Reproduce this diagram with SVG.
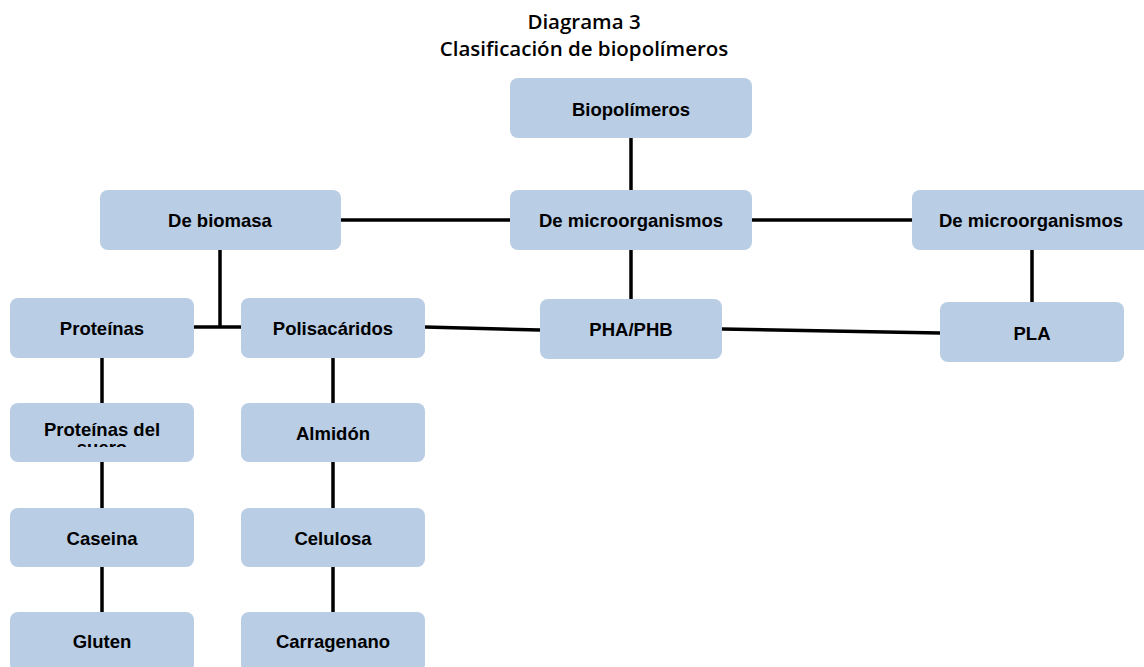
<svg xmlns="http://www.w3.org/2000/svg" width="1144" height="667" viewBox="0 0 1144 667">
  <defs>
    <style>
      .box { fill: #b9cde5; }
      .lbl { font-family: "Liberation Sans", Arial, sans-serif; font-weight: bold; font-size: 18.5px; fill: #000; text-anchor: middle; dominant-baseline: central; }
      .lbl2 { font-family: "Liberation Sans", Arial, sans-serif; font-weight: bold; font-size: 18.5px; fill: #000; text-anchor: middle; }
      .ttl { font-family: "Open Sans", "Liberation Sans", sans-serif; font-weight: 600; font-size: 20.5px; fill: #000; text-anchor: middle; }
      .ln { stroke: #000; stroke-width: 3.5; fill: none; }
    </style>
    <clipPath id="clip-suero">
      <rect x="10" y="403" width="184" height="44"/>
    </clipPath>
  </defs>
  <rect width="1144" height="667" fill="#fff"/>

  <g id="title">
    <text class="ttl" x="584" y="29">Diagrama 3</text>
    <text class="ttl" x="584" y="56">Clasificación de biopolímeros</text>
  </g>

  <g id="connectors">
    <line class="ln" x1="631" y1="138" x2="631" y2="190"/>
    <line class="ln" x1="341" y1="220" x2="510" y2="220"/>
    <line class="ln" x1="752" y1="220" x2="912" y2="220"/>
    <line class="ln" x1="631" y1="250" x2="631" y2="300"/>
    <line class="ln" x1="1032" y1="250" x2="1032" y2="302"/>
    <line class="ln" x1="220" y1="250" x2="220" y2="327"/>
    <line class="ln" x1="194" y1="327" x2="241" y2="327"/>
    <line class="ln" x1="425" y1="327" x2="540" y2="330"/>
    <line class="ln" x1="722" y1="329" x2="940" y2="333"/>
    <line class="ln" x1="102" y1="358" x2="102" y2="403"/>
    <line class="ln" x1="102" y1="462" x2="102" y2="508"/>
    <line class="ln" x1="102" y1="567" x2="102" y2="612"/>
    <line class="ln" x1="333" y1="358" x2="333" y2="403"/>
    <line class="ln" x1="333" y1="462" x2="333" y2="508"/>
    <line class="ln" x1="333" y1="567" x2="333" y2="612"/>
  </g>

  <g id="n-biopolimeros">
    <rect class="box" x="510" y="78" width="242" height="60" rx="8"/>
    <text class="lbl" x="631" y="109">Biopolímeros</text>
  </g>
  <g id="n-biomasa">
    <rect class="box" x="100" y="190" width="241" height="60" rx="8"/>
    <text class="lbl" x="220" y="220">De biomasa</text>
  </g>
  <g id="n-micro">
    <rect class="box" x="510" y="190" width="242" height="60" rx="8"/>
    <text class="lbl" x="631" y="220">De microorganismos</text>
  </g>
  <g id="n-micro2">
    <rect class="box" x="912" y="190" width="240" height="60" rx="8"/>
    <text class="lbl" x="1031" y="220">De microorganismos</text>
  </g>
  <g id="n-proteinas">
    <rect class="box" x="10" y="298" width="184" height="60" rx="8"/>
    <text class="lbl" x="102" y="328">Proteínas</text>
  </g>
  <g id="n-polisacaridos">
    <rect class="box" x="241" y="298" width="184" height="60" rx="8"/>
    <text class="lbl" x="333" y="328">Polisacáridos</text>
  </g>
  <g id="n-pha">
    <rect class="box" x="540" y="299" width="182" height="60" rx="8"/>
    <text class="lbl" x="631" y="329">PHA/PHB</text>
  </g>
  <g id="n-pla">
    <rect class="box" x="940" y="302" width="184" height="60" rx="8"/>
    <text class="lbl" x="1032" y="333">PLA</text>
  </g>
  <g id="n-suero">
    <rect class="box" x="10" y="403" width="184" height="59" rx="8"/>
    <g clip-path="url(#clip-suero)">
      <text class="lbl2" x="102" y="436">Proteínas del</text>
      <text class="lbl2" x="102" y="454">suero</text>
    </g>
  </g>
  <g id="n-almidon">
    <rect class="box" x="241" y="403" width="184" height="59" rx="8"/>
    <text class="lbl" x="333" y="433">Almidón</text>
  </g>
  <g id="n-caseina">
    <rect class="box" x="10" y="508" width="184" height="59" rx="8"/>
    <text class="lbl" x="102" y="538">Caseina</text>
  </g>
  <g id="n-celulosa">
    <rect class="box" x="241" y="508" width="184" height="59" rx="8"/>
    <text class="lbl" x="333" y="538">Celulosa</text>
  </g>
  <g id="n-gluten">
    <rect class="box" x="10" y="612" width="184" height="60" rx="8"/>
    <text class="lbl" x="102" y="641">Gluten</text>
  </g>
  <g id="n-carragenano">
    <rect class="box" x="241" y="612" width="184" height="60" rx="8"/>
    <text class="lbl" x="333" y="641">Carragenano</text>
  </g>
</svg>
